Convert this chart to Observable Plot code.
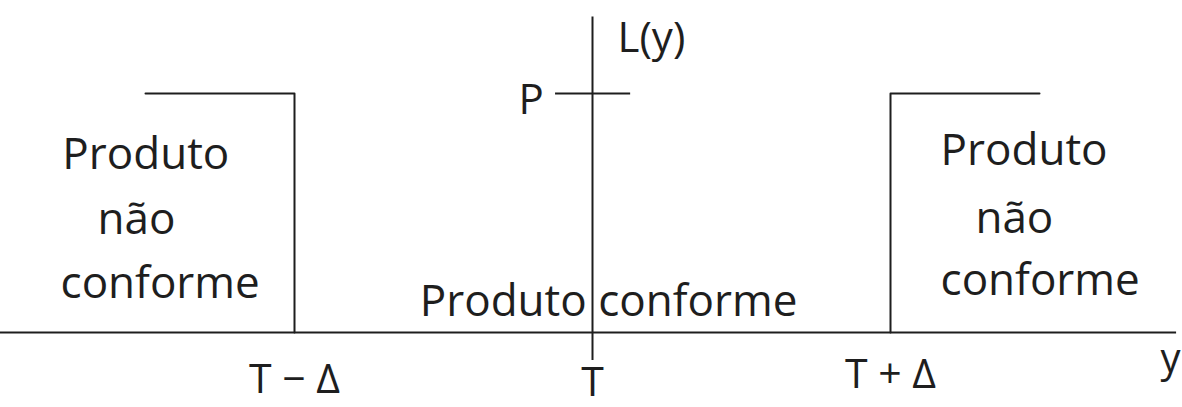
<!DOCTYPE html>
<html><head><meta charset="utf-8">
<script src="https://cdn.jsdelivr.net/npm/d3@7"></script>
<script src="https://cdn.jsdelivr.net/npm/@observablehq/plot@0.6"></script>
<style>body{margin:0;background:#fff}</style>
</head><body><div id="chart"></div>
<script>
// Loss function L(y): step (0 inside tolerance T±Δ, P outside)
const T = 0, DELTA = 1, P = 1;
const leftStepY  = [T - 1.5 * DELTA, T - DELTA, T - DELTA];
const leftStepL  = [P, P, 0];
const rightStepY = [T + DELTA, T + DELTA, T + 1.5 * DELTA];
const rightStepL = [0, P, P];
const tickValues = [T - DELTA, T, T + DELTA];
const tickLabels = ["T − Δ", "T", "T + Δ"];
const sideText   = ["Produto", "não", "conforme", "Produto", "não", "conforme"];
const sideX      = [-1.779, -1.661, -1.785, 1.168, 1.285, 1.168];
const sideL      = [0.686, 0.414, 0.146, 0.699, 0.418, 0.155];
const centerText = ["Produto conforme"];
const centerX    = [0.054];
const centerL    = [0.071];
const axisLabels = ["L(y)", "P"];
const axisLabelX = [0.084, -0.248];
const axisLabelL = [1.172, 0.916];
const varLabel   = ["y"];
const varLabelX  = [1.94];
const varLabelL  = [-0.167];
const tickLabelL = [-0.252, -0.264, -0.234];

const ink = "#1e1e1e";
const left = leftStepY.map((y, i) => ({y, L: leftStepL[i]}));
const right = rightStepY.map((y, i) => ({y, L: rightStepL[i]}));
const sides = sideText.map((t, i) => ({t, x: sideX[i], L: sideL[i]}));
const center = centerText.map((t, i) => ({t, x: centerX[i], L: centerL[i]}));
const axisLab = axisLabels.map((t, i) => ({t, x: axisLabelX[i], L: axisLabelL[i]}));
const varLab = varLabel.map((t, i) => ({t, x: varLabelX[i], L: varLabelL[i]}));
const ticks = tickLabels.map((t, i) => ({t, x: tickValues[i], L: tickLabelL[i]}));

const chart = Plot.plot({
  width: 1182, height: 407, margin: 0,
  x: {domain: [-2, 2], range: [-4, 1188], axis: null},
  y: {domain: [0, 1], range: [332, 93], axis: null},
  style: {fontFamily: "'Open Sans', sans-serif", background: "#fff"},
  marks: [
    Plot.ruleY([0], {x1: -2, x2: 1.96, stroke: ink, strokeWidth: 2}),
    Plot.ruleX([T], {y1: -0.117, y2: 1.32, stroke: ink, strokeWidth: 2}),
    Plot.ruleY([P], {x1: -0.124, x2: 0.128, stroke: ink, strokeWidth: 2}),
    Plot.line(left, {x: "y", y: "L", stroke: ink, strokeWidth: 2}),
    Plot.line(right, {x: "y", y: "L", stroke: ink, strokeWidth: 2}),
    Plot.text(sides, {x: "x", y: "L", text: "t", textAnchor: "start", lineAnchor: "bottom", fontSize: 44, fill: ink}),
    Plot.text(center, {x: "x", y: "L", text: "t", textAnchor: "middle", lineAnchor: "bottom", fontSize: 44, fill: ink}),
    Plot.text(axisLab, {x: "x", y: "L", text: "t", textAnchor: "start", lineAnchor: "bottom", fontSize: 42, fill: ink}),
    Plot.text(varLab, {x: "x", y: "L", text: "t", textAnchor: "middle", lineAnchor: "bottom", fontSize: 40, fill: ink}),
    Plot.text(ticks, {x: "x", y: "L", text: "t", textAnchor: "middle", lineAnchor: "bottom", fontSize: 41, fill: ink})
  ]
});
document.getElementById("chart").append(chart);
</script></body></html>
